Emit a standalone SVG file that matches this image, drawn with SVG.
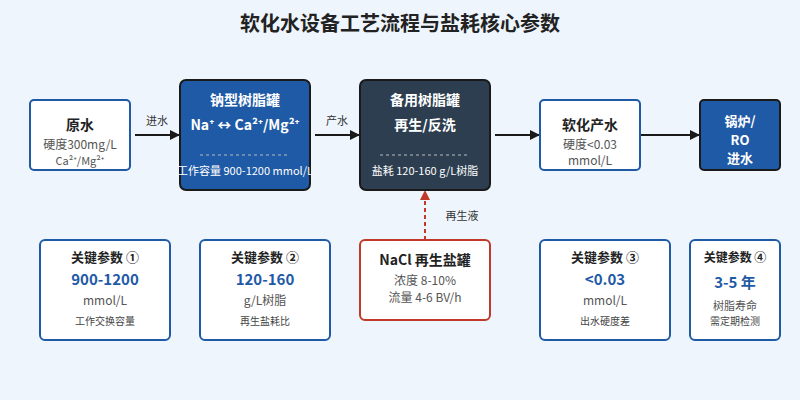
<svg xmlns="http://www.w3.org/2000/svg" width="800" height="400" viewBox="0 0 800 400">
<defs>
<marker id="ah" viewBox="0 0 10 10" refX="10" refY="5" markerWidth="10" markerHeight="10" markerUnits="userSpaceOnUse" orient="auto"><path d="M0,0 L10,5 L0,10 z" fill="#1a1a1a"/></marker>
<marker id="ahr" viewBox="0 0 10 10" refX="10" refY="5" markerWidth="10" markerHeight="10" markerUnits="userSpaceOnUse" orient="auto"><path d="M0,0 L10,5 L0,10 z" fill="#c0392b"/></marker>
<style>
text{font-family:"Noto Sans CJK SC","Noto Sans",sans-serif;text-anchor:middle}
.wb{fill:#fff;stroke:#1f5aa6;stroke-width:2}
.bb{fill:#1f5aa6;stroke:#1a1a1a;stroke-width:2}
.db{fill:#2c3e50;stroke:#1a1a1a;stroke-width:2}
.rb{fill:#fff;stroke:#c0392b;stroke-width:2}
.t{font-size:14px;font-weight:bold;fill:#222}
.tw{font-size:14px;font-weight:bold;fill:#fff}
.s{font-size:12px;fill:#555}
.sw{font-size:11px;fill:#fff}
.xs{font-size:10px;fill:#444}
.v{font-size:15px;font-weight:bold;fill:#1f5aa6}
.lbl{font-size:11px;fill:#333}
.sep{stroke:#bbb;stroke-width:1;stroke-dasharray:3 3}
.c{stroke:#1a1a1a;stroke-width:2;fill:none}
</style>
</defs>
<rect width="800" height="400" fill="#eef5fd"/>
<text x="400" y="31" style="font-size:20px;font-weight:bold;fill:#222">软化水设备工艺流程与盐耗核心参数</text>

<g id="connectors">
<line class="c" x1="135" y1="135" x2="180" y2="135" marker-end="url(#ah)"/>
<text class="lbl" x="157" y="125">进水</text>
<line class="c" x1="315" y1="135" x2="360" y2="135" marker-end="url(#ah)"/>
<text class="lbl" x="337" y="125">产水</text>
<line class="c" x1="495" y1="135" x2="540" y2="135" marker-end="url(#ah)"/>
<line class="c" x1="640" y1="135" x2="700" y2="135" marker-end="url(#ah)"/>
<line x1="425" y1="240" x2="425" y2="190" stroke="#c0392b" stroke-width="2" stroke-dasharray="4 3" marker-end="url(#ahr)"/>
<text class="lbl" x="462" y="220">再生液</text>
</g>

<g id="raw">
<rect class="wb" x="30" y="100" width="100" height="70" rx="4"/>
<text class="t" x="80" y="130">原水</text>
<text class="s" x="80" y="149">硬度300mg/L</text>
<text x="80" y="165" style="font-size:11px;fill:#555">Ca²⁺/Mg²⁺</text>
</g>

<g id="tankA">
<rect class="bb" x="180" y="80" width="130" height="110" rx="6"/>
<text class="tw" x="245" y="105">钠型树脂罐</text>
<text class="tw" x="245" y="130">Na⁺ ↔ Ca²⁺/Mg²⁺</text>
<line class="sep" x1="200" y1="155" x2="290" y2="155"/>
<text class="sw" x="245" y="175">工作容量 900-1200 mmol/L</text>
</g>

<g id="tankB">
<rect class="db" x="360" y="80" width="130" height="110" rx="6"/>
<text class="tw" x="425" y="105">备用树脂罐</text>
<text class="tw" x="425" y="130">再生/反洗</text>
<line class="sep" x1="380" y1="155" x2="470" y2="155"/>
<text class="sw" x="425" y="175">盐耗 120-160 g/L树脂</text>
</g>

<g id="soft">
<rect class="wb" x="540" y="100" width="100" height="70" rx="4"/>
<text class="t" x="590" y="130">软化产水</text>
<text class="s" x="590" y="149">硬度&lt;0.03</text>
<text class="s" x="590" y="165">mmol/L</text>
</g>

<g id="boiler">
<rect class="bb" x="700" y="100" width="80" height="70" rx="4"/>
<text x="740" y="126" style="font-size:13px;font-weight:bold;fill:#fff">锅炉/</text>
<text x="740" y="145" style="font-size:13px;font-weight:bold;fill:#fff">RO</text>
<text x="740" y="163" style="font-size:13px;font-weight:bold;fill:#fff">进水</text>
</g>

<g id="nacl">
<rect class="rb" x="360" y="240" width="130" height="80" rx="5"/>
<text class="t" x="425" y="265">NaCl 再生盐罐</text>
<text class="s" x="425" y="285">浓度 8-10%</text>
<text class="s" x="425" y="302">流量 4-6 BV/h</text>
</g>

<g id="param1">
<rect class="wb" x="40" y="240" width="130" height="100" rx="5"/>
<text x="105" y="262" style="font-size:13px;font-weight:bold;fill:#222">关键参数 ①</text>
<text class="v" x="105" y="285">900-1200</text>
<text class="s" x="105" y="305">mmol/L</text>
<text class="xs" x="105" y="325">工作交换容量</text>
</g>

<g id="param2">
<rect class="wb" x="200" y="240" width="130" height="100" rx="5"/>
<text x="265" y="262" style="font-size:13px;font-weight:bold;fill:#222">关键参数 ②</text>
<text class="v" x="265" y="285">120-160</text>
<text class="s" x="265" y="305">g/L树脂</text>
<text class="xs" x="265" y="325">再生盐耗比</text>
</g>

<g id="param3">
<rect class="wb" x="540" y="240" width="130" height="100" rx="5"/>
<text x="605" y="262" style="font-size:13px;font-weight:bold;fill:#222">关键参数 ③</text>
<text class="v" x="605" y="285">&lt;0.03</text>
<text class="s" x="605" y="305">mmol/L</text>
<text class="xs" x="605" y="325">出水硬度差</text>
</g>

<g id="param4">
<rect class="wb" x="690" y="240" width="90" height="100" rx="5"/>
<text x="735" y="262" style="font-size:12px;font-weight:bold;fill:#222">关键参数 ④</text>
<text class="v" x="735" y="288">3-5 年</text>
<text x="735" y="310" style="font-size:11px;fill:#555">树脂寿命</text>
<text class="xs" x="735" y="325">需定期检测</text>
</g>
</svg>
